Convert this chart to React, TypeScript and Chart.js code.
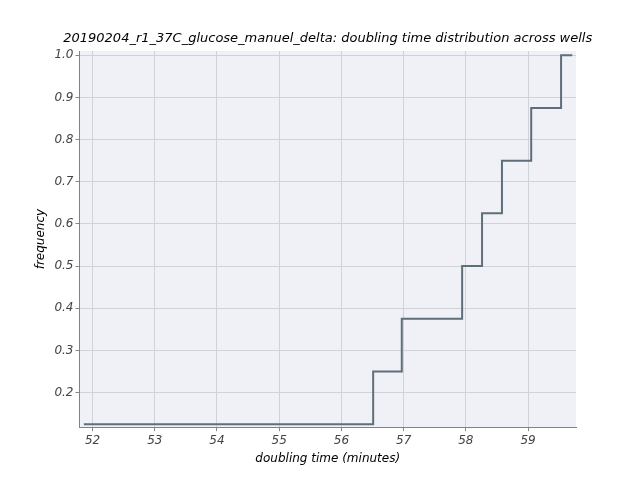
import { useEffect, useRef } from 'react';
import Chart from 'chart.js/auto';

const TITLE = '20190204_r1_37C_glucose_manuel_delta: doubling time distribution across wells';
const stepX = [51.86, 56.51, 56.97, 57.94, 58.26, 58.58, 59.05, 59.53, 59.71];
const stepY = [0.125, 0.25, 0.375, 0.5, 0.625, 0.75, 0.875, 1.0, 1.0];
const xTicks = [52, 53, 54, 55, 56, 57, 58, 59];
const yTicks = [0.2, 0.3, 0.4, 0.5, 0.6, 0.7, 0.8, 0.9, 1.0];

const FONT = 'DejaVu Sans';
const TICK = '#444444';
const GRID = '#cfd2d8';

// plot background plus a title centred over the plot area, like matplotlib
const bgPlugin = {
  id: 'plotBg',
  beforeDraw(chart: any) {
    const { ctx, chartArea: a } = chart;
    ctx.save();
    ctx.fillStyle = '#eff1f6';
    ctx.fillRect(a.left, a.top, a.right - a.left, a.bottom - a.top);
    ctx.fillStyle = '#000';
    ctx.font = `italic 13px "${FONT}"`;
    ctx.textAlign = 'center';
    ctx.textBaseline = 'alphabetic';
    ctx.fillText(TITLE, (a.left + a.right) / 2, a.top - 9);
    ctx.restore();
  },
};

export default function App() {
  const ref = useRef<HTMLCanvasElement | null>(null);

  useEffect(() => {
    document.body.style.margin = '0';
    if (!ref.current) return;
    const chart = new Chart(ref.current, {
      type: 'line',
      data: {
        datasets: [
          {
            data: stepX.map((x, i) => ({ x, y: stepY[i] })),
            stepped: 'before',
            borderColor: '#5f6f7a',
            borderWidth: 2,
            pointRadius: 0,
            fill: false,
          },
        ],
      },
      options: {
        animation: false,
        responsive: false,
        layout: { padding: { left: 30, right: 64, top: 51, bottom: 10 } },
        plugins: {
          legend: { display: false },
          tooltip: { enabled: false },
          title: { display: false },
        },
        scales: {
          x: {
            type: 'linear',
            min: 51.79,
            max: 59.77,
            afterBuildTicks: (axis: any) => {
              axis.ticks = xTicks.map((v) => ({ value: v }));
            },
            ticks: { color: TICK, font: { family: FONT, size: 12, style: 'italic' }, padding: 2 },
            grid: { color: GRID, tickLength: 4, tickColor: '#888' },
            border: { color: '#7a8490', width: 1 },
            title: {
              display: true,
              text: 'doubling time (minutes)',
              color: '#000',
              font: { family: FONT, size: 12, style: 'italic' },
              padding: { top: 2 },
            },
          },
          y: {
            min: 0.118,
            max: 1.01,
            afterBuildTicks: (axis: any) => {
              axis.ticks = yTicks.map((v) => ({ value: v }));
            },
            ticks: {
              color: TICK,
              font: { family: FONT, size: 12, style: 'italic' },
              padding: 2,
              callback: (v: any) => Number(v).toFixed(1),
            },
            grid: { color: GRID, tickLength: 4, tickColor: '#888' },
            border: { color: '#7a8490', width: 1 },
            title: {
              display: true,
              text: 'frequency',
              color: '#000',
              font: { family: FONT, size: 12, style: 'italic' },
              padding: { bottom: 4 },
            },
          },
        },
      },
      plugins: [bgPlugin],
    });
    return () => chart.destroy();
  }, []);

  return <canvas ref={ref} width={640} height={480} style={{ display: 'block' }} />;
}
